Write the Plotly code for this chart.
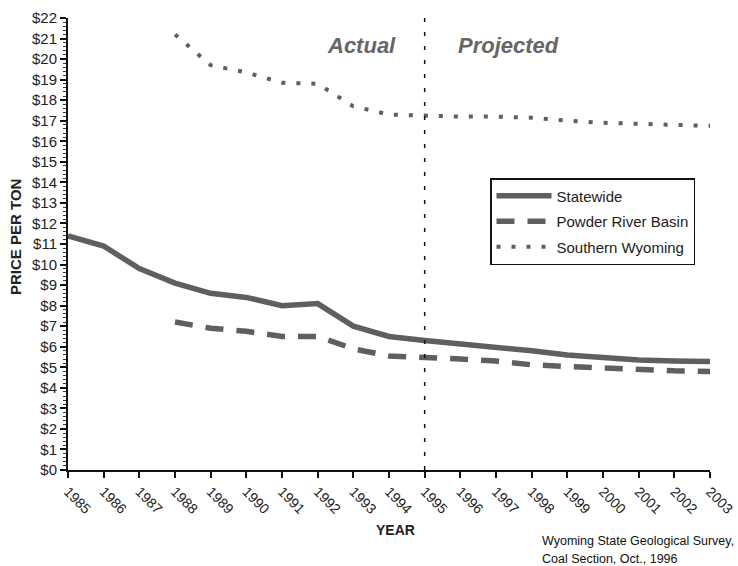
import plotly.graph_objects as go

years = list(range(1985, 2004))
statewide = [11.4, 10.9, 9.8, 9.1, 8.6, 8.4, 8.0, 8.1, 7.0, 6.5, 6.3, 6.15, 5.95, 5.8, 5.6, 5.45, 5.35, 5.3, 5.28]
prb_years = list(range(1988, 2004))
powder_river = [7.2, 6.9, 6.75, 6.5, 6.5, 5.9, 5.55, 5.5, 5.4, 5.3, 5.12, 5.04, 4.96, 4.88, 4.83, 4.8]
sw_years = list(range(1988, 2004))
southern_wy = [21.2, 19.7, 19.35, 18.85, 18.8, 17.7, 17.3, 17.25, 17.2, 17.2, 17.15, 17.0, 16.9, 16.85, 16.8, 16.75]
y_ticks = list(range(0, 23))
y_labels = [f"${v}" for v in y_ticks]

FONT = "Liberation Sans, Arial, sans-serif"
LINE = "#5f5f5f"

FW, FH = 738, 566
# plot area in window pixels
L, R, T, B = 68, 710, 18, 470
W, H = R - L, B - T
def px(x): return (x - L) / W
def py(y): return (B - y) / H

fig = go.Figure()
fig.add_trace(go.Scatter(x=years, y=statewide, mode="lines", name="Statewide",
                         legendgroup="a", line=dict(color=LINE, width=5.5)))
fig.add_trace(go.Scatter(x=prb_years, y=powder_river, mode="lines", name="Powder River Basin",
                         legendgroup="b", line=dict(color=LINE, width=5.5, dash="18px,13px")))
fig.add_trace(go.Scatter(x=sw_years, y=southern_wy, mode="lines", name="Southern Wyoming",
                         legendgroup="c", line=dict(color=LINE, width=4, dash="4px,11px")))

fig.add_shape(type="line", xref="x", yref="paper", x0=1995, x1=1995, y0=0, y1=py(8),
              line=dict(color="#111", width=1.5, dash="4px,10px"))

def note(text, x, y, size, color="#222", **kw):
    fig.add_annotation(text=text, x=px(x), xref="paper", y=py(y), yref="paper",
                       showarrow=False, font=dict(family=FONT, size=size, color=color), **kw)

note("<b><i>Actual</i></b>", 361, 45, 22, "#666", xanchor="center", yanchor="middle")
note("<b><i>Projected</i></b>", 508, 45, 22, "#666", xanchor="center", yanchor="middle")
note("<b>YEAR</b>", 396, 530, 14, xanchor="center", yanchor="middle")
note("<b>PRICE PER TON</b>", 15, 237, 15, textangle=-90, xanchor="center", yanchor="middle")
note("Wyoming State Geological Survey,", 540, 541, 12.5, "#111", xanchor="left", yanchor="middle")
note("Coal Section, Oct., 1996", 540, 559, 12.5, "#111", xanchor="left", yanchor="middle")

fig.update_layout(
    width=FW, height=FH,
    margin=dict(l=L, r=FW - R, t=T, b=FH - B),
    paper_bgcolor="white", plot_bgcolor="white",
    font=dict(family=FONT, size=13, color="#222"),
    showlegend=True,
    legend=dict(x=px(490), y=py(178), xanchor="left", yanchor="top",
                bordercolor="#111", borderwidth=1.5, bgcolor="white",
                itemwidth=55, entrywidth=226, entrywidthmode="pixels",
                font=dict(family=FONT, size=15, color="#222"), tracegroupgap=3),
    xaxis=dict(range=[1985, 2003], tickmode="array", tickvals=years,
               ticktext=[str(y) for y in years], tickangle=45, automargin=False,
               showline=True, linecolor="#111", linewidth=2, ticks="outside",
               ticklen=6, tickwidth=1.5, tickcolor="#111", showgrid=False, zeroline=False,
               tickfont=dict(family=FONT, size=14, color="#222")),
    yaxis=dict(range=[0, 22], tickmode="array", tickvals=y_ticks, ticktext=y_labels,
               automargin=False,
               showline=True, linecolor="#111", linewidth=2, ticks="outside",
               ticklen=6, tickwidth=1.5, tickcolor="#111", showgrid=False, zeroline=False,
               minor=dict(dtick=0.2, ticks="outside", ticklen=3, tickwidth=1, tickcolor="#333",
                          showgrid=False),
               tickfont=dict(family=FONT, size=15, color="#222")),
)

fig.write_html("out.html", config={"displayModeBar": False},
               post_script="document.body.style.margin='0';document.body.style.overflow='hidden';")
